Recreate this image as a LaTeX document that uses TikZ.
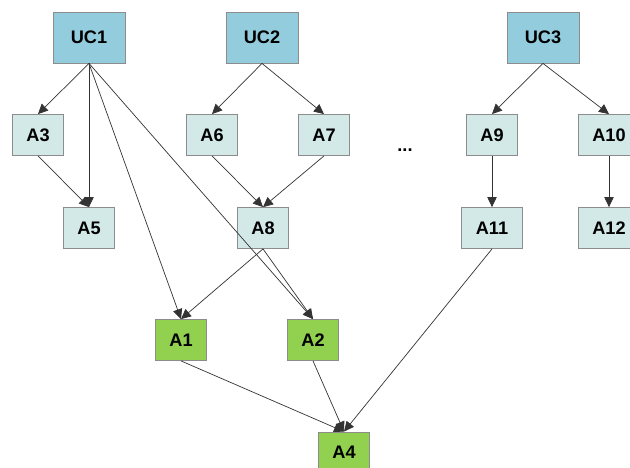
\documentclass[tikz,border=0pt]{standalone}
\usepackage{fontspec}
\setmainfont{Liberation Sans}
\usepackage{tikz}
\usetikzlibrary{arrows.meta,positioning}
\definecolor{ucblue}{HTML}{93CDDD}
\definecolor{actpale}{HTML}{D2E9E7}
\definecolor{actgreen}{HTML}{92D050}
\definecolor{boxline}{HTML}{8C8C8C}
\tikzset{
  box/.style={draw=boxline,line width=0.7pt,inner sep=0pt,font=\fontsize{15.5}{18}\selectfont\bfseries},
  uc/.style={box,fill=ucblue,minimum width=2.16cm,minimum height=1.53cm},
  act/.style={box,fill=actpale,minimum width=1.53cm,minimum height=1.23cm},
  wide/.style={act,minimum width=1.83cm},
  done/.style={box,fill=actgreen,minimum width=1.53cm,minimum height=1.23cm},
  dep/.style={-{Triangle[length=8.5pt,width=8pt]},line width=0.6pt,draw=black!80}
}

\begin{document}
\begin{tikzpicture}[x=0.03cm,y=-0.03cm]
\useasboundingbox (0,0) rectangle (630,468);
% use cases
\node[uc] (UC1) at (89,37.5) {UC1};
\node[uc] (UC2) at (262,37.5) {UC2};
\node[uc] (UC3) at (543,37.5) {UC3};
% activities
\node[act] (A3) at (38,135) {A3};
\node[act] (A6) at (212,135) {A6};
\node[act] (A7) at (324,135) {A7};
\node[act] (A9) at (492,135) {A9};
\node[wide] (A10) at (609,135) {A10};
\node[act] (A5) at (89,228) {A5};
\node[act] (A8) at (263,228) {A8};
\node[wide] (A11) at (492,228) {A11};
\node[wide] (A12) at (609,228) {A12};
\node[done] (A1) at (181,340) {A1};
\node[done] (A2) at (313,340) {A2};
\node[done] (A4) at (344,452.5) {A4};
\node[font=\fontsize{15.5}{18}\selectfont\bfseries] (dots) at (405,150) {...};
% dependencies
\draw[dep] (UC1.south) -- (A3.north);
\draw[dep] (UC1.south) -- (A5.north);
\draw[dep] (UC1.south) -- (A1.north);
\draw[dep] (UC1.south) -- (A2.north);
\draw[dep] (A3.south) -- (A5.north);
\draw[dep] (UC2.south) -- (A6.north);
\draw[dep] (UC2.south) -- (A7.north);
\draw[dep] (A6.south) -- (A8.north);
\draw[dep] (A7.south) -- (A8.north);
\draw[dep] (A8.south) -- (A1.north);
\draw[dep] (A8.south) -- (A2.north);
\draw[dep] (UC3.south) -- (A9.north);
\draw[dep] (UC3.south) -- (A10.north);
\draw[dep] (A9.south) -- (A11.north);
\draw[dep] (A10.south) -- (A12.north);
\draw[dep] (A1.south) -- (A4.north);
\draw[dep] (A2.south) -- (A4.north);
\draw[dep] (A11.south) -- (A4.north);
\end{tikzpicture}
\end{document}
